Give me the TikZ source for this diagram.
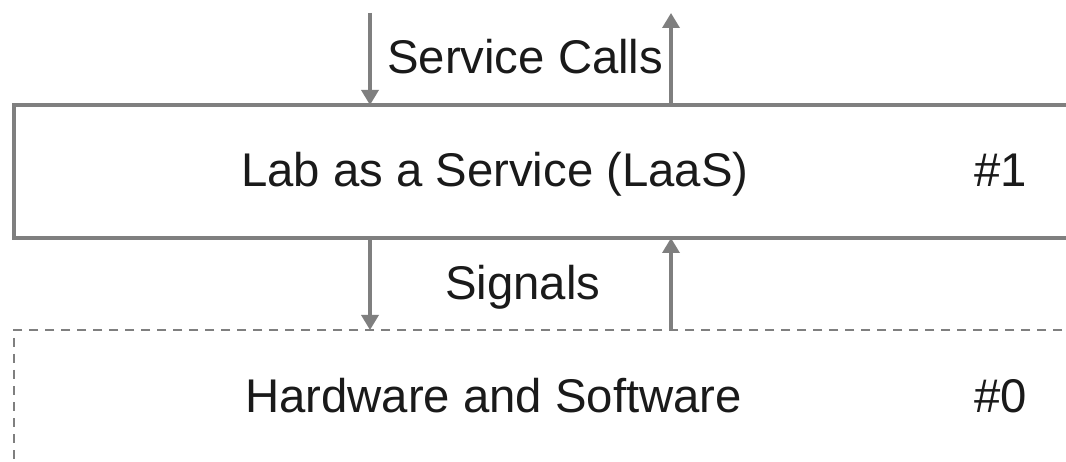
\documentclass[tikz,border=0pt]{standalone}
\usepackage{fontspec}
\setmainfont{Liberation Sans}
\usetikzlibrary{arrows.meta}
\definecolor{linegray}{HTML}{7F7F7F}
\definecolor{inkblack}{HTML}{1A1A1A}
\begin{document}
\begin{tikzpicture}[x=1pt,y=-1pt,
  layer/.style={draw=linegray, line width=4pt, fill=white, outer sep=0pt,
    inner sep=0pt, minimum width=1080pt, anchor=north west},
  openlayer/.style={layer, line width=2.8pt, dash pattern=on 9pt off 7pt},
  txt/.style={text=inkblack, inner sep=0pt, anchor=base west,
    font=\fontsize{47.3}{52}\selectfont},
  flow/.style={draw=linegray, line width=3.4pt,
    -{Triangle[length=15pt,width=17pt]}}]
\useasboundingbox (0,0) rectangle (1066,462);
\clip (0,0) rectangle (1066,462);
\fill[white] (0,0) rectangle (1066,462);

% layer 1 (solid) and layer 0 (dashed)
\node[layer, minimum height=133pt] (laas) at (14,105) {};
\node[openlayer, minimum height=200pt] (hw) at (14,330) {};

% texts
\node[txt] (laasname) at (241,187) {Lab as a Service (LaaS)};
\node[txt] (laasno) at (974,187) {\#1};
\node[txt] (hwname) at (245,413) {Hardware and Software};
\node[txt] (hwno) at (974,412) {\#0};
\node[txt] (calls) at (387,74) {Service Calls};
\node[txt] (signals) at (445,300) {Signals};

% connector columns
\coordinate (down) at (370,13);
\coordinate (up) at (671,13);

\draw[flow] (down) -- (down |- laas.north);
\draw[flow] (up |- laas.north) -- (up);
\draw[flow] (down |- laas.south) -- (down |- hw.north);
\draw[flow] (up |- hw.north) -- (up |- laas.south);
\end{tikzpicture}
\end{document}
